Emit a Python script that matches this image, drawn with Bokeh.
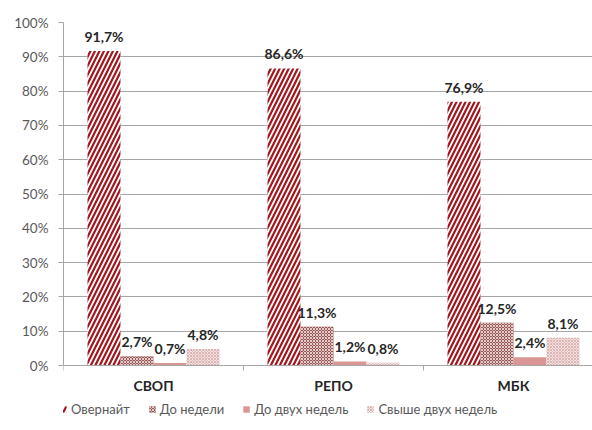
from bokeh.plotting import figure
from bokeh.models import (FixedTicker, PrintfTickFormatter, ColumnDataSource,
                          Legend, LegendItem, Span)
from bokeh.embed import file_html
from bokeh.resources import INLINE

# Structure of interbank market turnover by term, %
categories = ["СВОП", "РЕПО", "МБК"]
series_names = ["Овернайт", "До недели", "До двух недель", "Свыше двух недель"]
overnight = [91.7, 86.6, 76.9]
up_to_week = [2.7, 11.3, 12.5]
up_to_two_weeks = [0.7, 1.2, 2.4]
over_two_weeks = [4.8, 0.8, 8.1]
y_ticks = [0, 10, 20, 30, 40, 50, 60, 70, 80, 90, 100]

series_values = [overnight, up_to_week, up_to_two_weeks, over_two_weeks]

# bar styling per series
styles = [
    dict(fill_color="white", hatch_pattern="right_diagonal_line",
         hatch_color="#a3161c", hatch_scale=9, hatch_weight=2.2),
    dict(fill_color="#945755", hatch_pattern="diagonal_cross",
         hatch_color="#e6cccb", hatch_scale=3, hatch_weight=1),
    dict(fill_color="#d99694", hatch_pattern=None),
    dict(fill_color="#f2e1e1", hatch_pattern="diagonal_cross",
         hatch_color="#dcb4b3", hatch_scale=3, hatch_weight=1),
]

offsets = [-0.275, -0.0917, 0.0917, 0.275]
bar_width = 0.183
LABEL_FONT = "Lato"

# the frame runs to the bottom of the canvas; the space under zero holds
# the category names and the legend
PX_PER_UNIT = 343 / 100
Y_MIN = -(430 - 22 - 343) / PX_PER_UNIT

p = figure(width=592, height=430, x_range=(0, 2.939), y_range=(Y_MIN, 100),
           output_backend="svg", toolbar_location=None,
           min_border_left=63, min_border_right=0, min_border_top=22,
           min_border_bottom=0)
p.outline_line_color = None
p.background_fill_color = "white"
p.border_fill_color = "white"
p.xaxis.visible = False
p.xgrid.grid_line_color = None

legend_items = []
for name, vals, off, st in zip(series_names, series_values, offsets, styles):
    xs = [i + 0.5 + off for i in range(len(categories))]
    labels = [f"{v:.1f}".replace(".", ",") + "%" for v in vals]
    src = ColumnDataSource(dict(x=xs, top=vals, label=labels))
    kw = dict(fill_color=st["fill_color"], line_color=None)
    if st["hatch_pattern"]:
        kw.update(hatch_pattern=st["hatch_pattern"], hatch_color=st["hatch_color"],
                  hatch_scale=st["hatch_scale"], hatch_weight=st["hatch_weight"])
    r = p.vbar(x="x", top="top", bottom=0, width=bar_width, source=src, **kw)
    legend_items.append(LegendItem(label=name, renderers=[r]))
    p.text(x="x", y="top", text="label", source=src, text_align="center",
           text_baseline="bottom", y_offset=-6, text_font_size="14px",
           text_font_style="bold", text_color="#262626",
           text_font={"value": LABEL_FONT})

# y axis, limited to the 0-100% span
p.yaxis.bounds = (0, 100)
p.yaxis.ticker = FixedTicker(ticks=y_ticks)
p.yaxis.formatter = PrintfTickFormatter(format="%d%%")
p.yaxis.axis_line_color = "#a6a6a6"
p.yaxis.major_tick_line_color = "#a6a6a6"
p.yaxis.major_tick_out = 5
p.yaxis.major_tick_in = 0
p.yaxis.minor_tick_line_color = None
p.yaxis.major_label_text_font = LABEL_FONT
p.yaxis.major_label_text_font_size = "13.5px"
p.yaxis.major_label_text_color = "#595959"
p.yaxis.major_label_standoff = 10

p.ygrid.grid_line_color = "#a6a6a6"
p.ygrid.grid_line_width = 1

# category baseline, group separator ticks and category names
p.add_layout(Span(location=0, dimension="width", line_color="#a6a6a6",
                  line_width=1))
seps = list(range(len(categories) + 1))
tick_len = 5 / PX_PER_UNIT
p.segment(x0=seps, y0=[0] * len(seps), x1=seps, y1=[-tick_len] * len(seps),
          line_color="#a6a6a6", line_width=1)
centres = [i + 0.5 for i in range(len(categories))]
p.text(x=centres, y=[0] * len(centres), text=categories, text_align="center",
       text_baseline="top", y_offset=11, text_font_size="14px",
       text_font_style="bold", text_color="#262626",
       text_font={"value": LABEL_FONT})

legend = Legend(items=legend_items, orientation="horizontal",
                location=(-4, 13), glyph_width=8, glyph_height=8,
                label_text_font=LABEL_FONT, label_text_font_size="13px",
                label_text_color="#595959", label_standoff=4, spacing=18,
                border_line_color=None, background_fill_alpha=0,
                padding=2, margin=0)
p.add_layout(legend, "center")

open("out.html", "w").write(file_html(p, INLINE))
